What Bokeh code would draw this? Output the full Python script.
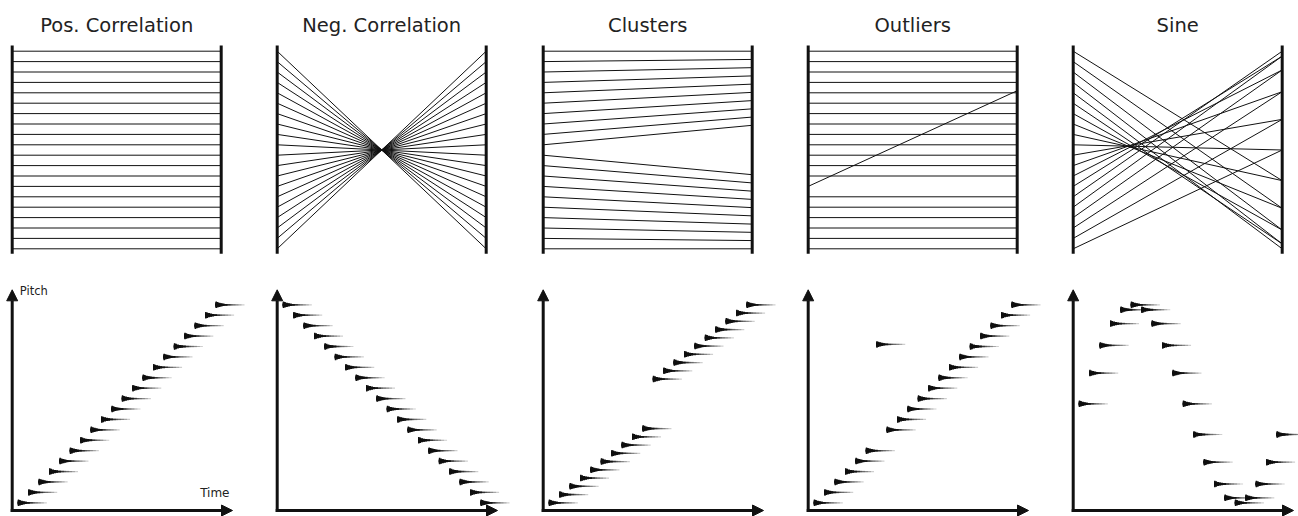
from bokeh.plotting import figure
from bokeh.layouts import gridplot
from bokeh.models import Range1d, Label, Arrow, NormalHead
from bokeh.embed import file_html
from bokeh.resources import INLINE

# ---------------- data ----------------
titles = ["Pos. Correlation", "Neg. Correlation", "Clusters", "Outliers", "Sine"]

time = [0, 1, 2, 3, 4, 5, 6, 7, 8, 9, 10, 11, 12, 13, 14, 15, 16, 17, 18, 19]

pos_pitch = [0, 1, 2, 3, 4, 5, 6, 7, 8, 9, 10, 11, 12, 13, 14, 15, 16, 17, 18, 19]
neg_pitch = [19, 18, 17, 16, 15, 14, 13, 12, 11, 10, 9, 8, 7, 6, 5, 4, 3, 2, 1, 0]
cluster_pitch = [0, 1, 2, 3, 4, 5, 6, 7, 8, 9, 15, 16, 17, 18, 19, 20, 21, 22, 23, 24]
outlier_pitch = [0, 1, 2, 3, 4, 5, 15.2, 7, 8, 9, 10, 11, 12, 13, 14, 15, 16, 17, 18, 19]
sine_pitch = [0, 0.31, 0.59, 0.81, 0.95, 1.0, 0.95, 0.81, 0.59, 0.31,
              0, -0.31, -0.59, -0.81, -0.95, -1.0, -0.95, -0.81, -0.59, -0.31]

pitches = [pos_pitch, neg_pitch, cluster_pitch, outlier_pitch, sine_pitch]

x_label = "Time"
y_label = "Pitch"

# ---------------- style / layout ----------------
COL_W = [265, 266, 265, 265, 237]
TOP_H = 270
BOT_H = 246
AX = 11.7            # local px of the left axis in every column
INK = "#111111"
FONT = "DejaVu Sans"

# comet: (length px, width px, alpha)
COMET = [(1.5, 6.5, 1.0), (3, 5.4, 1.0), (5, 4.2, 1.0), (7, 3.2, 1.0),
         (9, 2.4, 1.0), (12, 1.8, 0.9), (15, 1.5, 0.5),
         (17, 1.4, 0.25), (20, 1.4, 0.22), (23, 1.3, 0.22),
         (26, 1.2, 0.2), (29, 1.2, 0.2)]


def new_fig(w, h, xr, yr):
    f = figure(width=w, height=h, x_range=xr, y_range=yr,
               output_backend="svg", toolbar_location=None,
               x_axis_location=None, y_axis_location=None,
               min_border=0, outline_line_color=None,
               background_fill_color="white", border_fill_color="white")
    f.grid.visible = False
    return f


def top_panel(title, t, p, w):
    gap = 209.0                    # distance between the two axes, px
    v1, vspan = 50.7, 197.6        # px of max value, px span
    xr = Range1d(-AX / gap, (w - AX) / gap)
    yr = Range1d(-(TOP_H - (v1 + vspan)) / vspan, 1 + v1 / vspan)
    f = new_fig(w, TOP_H, xr, yr)

    tmin, tmax = min(t), max(t)
    pmin, pmax = min(p), max(p)
    left = [(v - tmin) / (tmax - tmin) for v in t]
    right = [(v - pmin) / (pmax - pmin) for v in p]
    f.segment(x0=[0] * len(t), y0=left, x1=[1] * len(t), y1=right,
              line_color=INK, line_width=1)

    ylo = -(253.3 - (v1 + vspan)) / vspan
    yhi = 1 + (v1 - 45.0) / vspan
    f.segment(x0=[0, 1], y0=[ylo, ylo], x1=[0, 1], y1=[yhi, yhi],
              line_color=INK, line_width=3)

    f.add_layout(Label(x=0.5, y=1 + (v1 - 24.5) / vspan, text=title,
                       text_align="center", text_baseline="middle",
                       text_font=FONT, text_font_size="19.5px",
                       text_color="#222222"))
    return f


def bottom_panel(t, p, w, first):
    x0px, xspan = AX + 5.6, 197.7
    y0px, yspan = 232.3, 198.0
    tmin, tmax = min(t), max(t)
    pmin, pmax = min(p), max(p)
    kx = (tmax - tmin) / xspan
    ky = (pmax - pmin) / yspan

    def X(px):
        return tmin + (px - x0px) * kx

    def Y(py):
        return pmin + (y0px - py) * ky

    f = new_fig(w, BOT_H, Range1d(X(0), X(w)), Range1d(Y(BOT_H), Y(0)))

    ax_y = 240.0
    f.add_layout(Arrow(end=NormalHead(size=11, fill_color=INK, line_color=INK, line_width=1),
                       x_start=X(AX), y_start=Y(ax_y + 1.5), x_end=X(AX), y_end=Y(19.3),
                       line_color=INK, line_width=3))
    f.add_layout(Arrow(end=NormalHead(size=11, fill_color=INK, line_color=INK, line_width=1),
                       x_start=X(AX - 1.5), y_start=Y(ax_y), x_end=X(AX + 220.3), y_end=Y(ax_y),
                       line_color=INK, line_width=3))

    for L, lw, a in COMET:
        f.ray(x=t, y=p, length=L, length_units="screen", angle=0,
              line_color=INK, line_width=lw, line_alpha=a, line_cap="butt")

    if first:
        f.add_layout(Label(x=X(AX + 7.6), y=Y(20.0), text=y_label, text_align="left",
                           text_baseline="middle", text_font=FONT,
                           text_font_size="11.5px", text_color="#222222"))
        f.add_layout(Label(x=X(AX + 217.3), y=Y(222.8), text=x_label, text_align="right",
                           text_baseline="middle", text_font=FONT,
                           text_font_size="12px", text_color="#222222"))
    return f


tops = [top_panel(titles[k], time, pitches[k], COL_W[k]) for k in range(5)]
bots = [bottom_panel(time, pitches[k], COL_W[k], k == 0) for k in range(5)]

grid = gridplot([tops, bots], toolbar_location=None)

open("out.html", "w").write(file_html(grid, INLINE))
